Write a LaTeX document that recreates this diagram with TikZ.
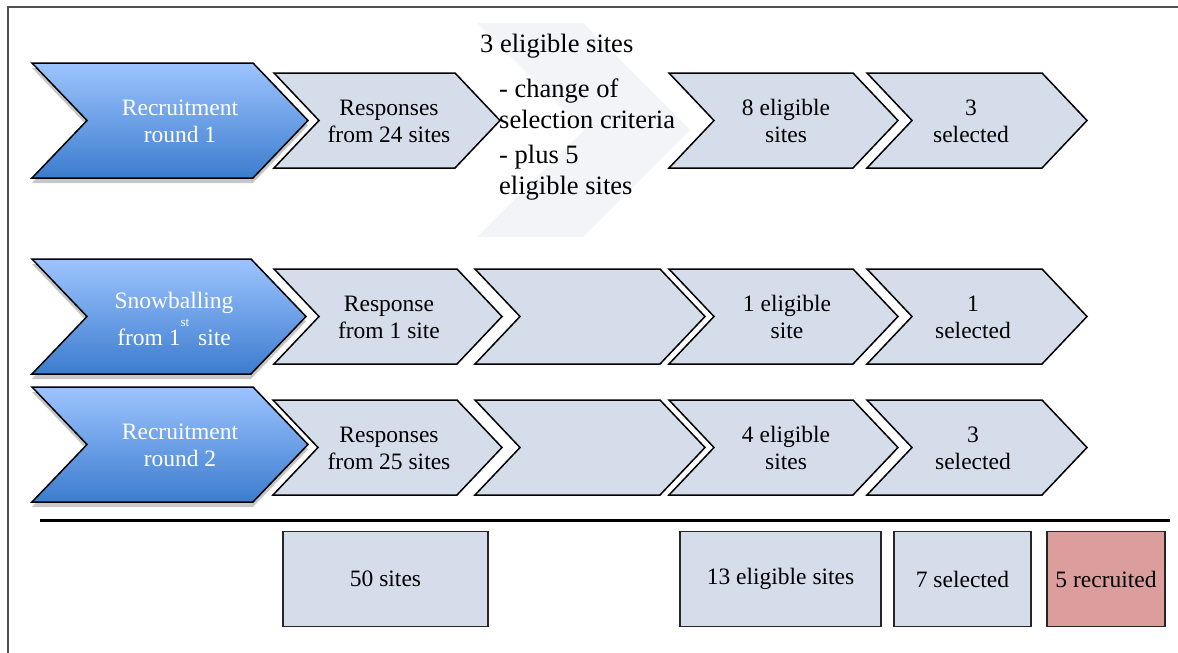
\documentclass[tikz,border=0pt]{standalone}
\usepackage{fontspec}
\setmainfont{Liberation Serif}
\usetikzlibrary{shadows}
\definecolor{chevgray}{RGB}{213,220,234}
\definecolor{faintgray}{RGB}{243,244,248}
\definecolor{bluetop}{RGB}{157,196,255}
\definecolor{bluebot}{RGB}{60,124,206}
\definecolor{recred}{RGB}{220,158,156}
\definecolor{framegray}{RGB}{80,80,80}
\newcommand\chevronpath[5]{(#1,#2) -- ({#3-#5},#2) -- (#3,{(#2+#4)/2}) -- ({#3-#5},#4) -- (#1,#4) -- ({#1+#5},{(#2+#4)/2}) -- cycle}
\tikzset{
  graychev/.style={draw=black, line width=1.5pt, fill=chevgray, line join=miter},
  bluechev/.style={draw=black, line width=1.5pt, top color=bluetop, bottom color=bluebot, line join=miter,
    drop shadow={shadow xshift=0pt, shadow yshift=-5pt, opacity=0.22, fill=black}},
  faintchev/.style={fill=faintgray, draw=none},
  chevtext/.style={align=center, font=\fontsize{23.5}{27}\selectfont, inner sep=0pt},
  bluetext/.style={chevtext, text=white},
  notetext/.style={align=left, font=\fontsize{26.5}{31}\selectfont, inner sep=0pt},
  sumbox/.style={draw=black!85, line width=1.4pt, fill=chevgray, minimum height=95pt, inner sep=0pt,
    font=\fontsize{23.5}{27}\selectfont},
  framestyle/.style={draw=framegray, line width=2pt},
  sepline/.style={draw=black, line width=3pt}
}
\begin{document}
\begin{tikzpicture}[x=1pt, y=-1pt]
\useasboundingbox (0,0) rectangle (1178,653);
% frame
\coordinate (fbl) at (8,653);
\coordinate (ftl) at (8,7);
\coordinate (ftr) at (1178,7);
\draw[framestyle] (fbl) -- (ftl) -- (ftr);

% faint background chevron
\fill[faintchev] \chevronpath{477}{23}{690}{237}{107};

% row 1
\draw[bluechev] \chevronpath{32}{63}{308}{178}{55};
\draw[graychev] \chevronpath{274}{73}{500}{168}{45};
\draw[graychev] \chevronpath{669}{73}{898}{168}{45};
\draw[graychev] \chevronpath{867}{73}{1087}{168}{45};
\node[bluetext] (b1) at (180,121) {Recruitment\\round 1};
\node[chevtext] (r1a) at (389,121) {Responses\\from 24 sites};
\node[chevtext] (r1c) at (786,121) {8 eligible\\sites};
\node[chevtext] (r1d) at (971,121) {3\\selected};
\node[notetext, anchor=west] (n0) at (480,46) {3 eligible sites};
\node[notetext, anchor=west] (n1) at (499,140) {- change of\\selection criteria\\[4pt]- plus 5\\eligible sites};

% row 2
\draw[bluechev] \chevronpath{32}{259}{306}{374}{55};
\draw[graychev] \chevronpath{274}{269}{502}{364}{45};
\draw[graychev] \chevronpath{475}{269}{705}{364}{45};
\draw[graychev] \chevronpath{669}{269}{898}{364}{45};
\draw[graychev] \chevronpath{867}{269}{1087}{364}{45};
\node[bluetext] (b2) at (174,319) {Snowballing\\[5pt]from 1\raisebox{19pt}{\fontsize{13}{13}\selectfont st}\hspace{3pt} site};
\node[chevtext] (r2a) at (389,317) {Response\\from 1 site};
\node[chevtext] (r2c) at (787,317) {1 eligible\\site};
\node[chevtext] (r2d) at (973,317) {1\\selected};

% row 3
\draw[bluechev] \chevronpath{32}{387}{308}{502}{55};
\draw[graychev] \chevronpath{273}{400}{502}{495}{45};
\draw[graychev] \chevronpath{475}{400}{705}{495}{45};
\draw[graychev] \chevronpath{669}{400}{898}{495}{45};
\draw[graychev] \chevronpath{867}{400}{1087}{495}{45};
\node[bluetext] (b3) at (180,445) {Recruitment\\round 2};
\node[chevtext] (r3a) at (389,448) {Responses\\from 25 sites};
\node[chevtext] (r3c) at (786,448) {4 eligible\\sites};
\node[chevtext] (r3d) at (973,448) {3\\selected};

% separator
\coordinate (sl) at (40,520);
\coordinate (sr) at (1170,520);
\draw[sepline] (sl) -- (sr);

% summary boxes
\node[sumbox, minimum width=205pt] (s1) at (385.5,579) {50 sites};
\node[sumbox, minimum width=201pt] (s2) at (780.5,579) {13 eligible sites};
\node[sumbox, minimum width=137pt] (s3) at (962.5,579) {7 selected};
\node[sumbox, minimum width=118pt, fill=recred] (s4) at (1106,579) {5 recruited};
\end{tikzpicture}
\end{document}
